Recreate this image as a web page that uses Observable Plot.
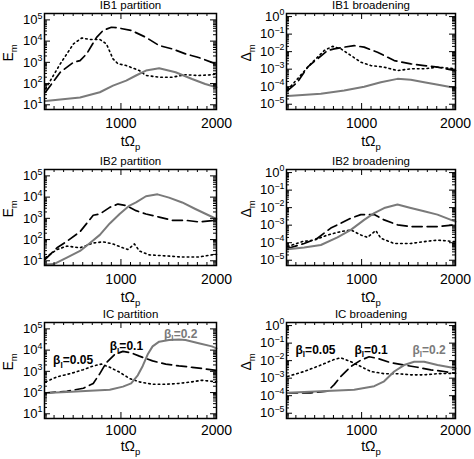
<!DOCTYPE html>
<html><head><meta charset="utf-8">
<script src="https://cdn.jsdelivr.net/npm/d3@7"></script>
<script src="https://cdn.jsdelivr.net/npm/@observablehq/plot@0.6"></script>
<style>
body{margin:0;background:#fff}
#c{position:relative;width:474px;height:459px;overflow:hidden;background:#fff}
.p{position:absolute}
</style>
</head><body><div id="c"></div>
<script>
// ---- data: [tΩp, value] ----
const ib1PartSolid = [[210,15],[572,22],[779,39],[917,80],[1055,138],[1158,240],[1262,410],[1400,530],[1572,340],[1744,165],[1882,96],[2000,67]];
const ib1PartDash = [[210,39],[365,340],[503,1000],[572,1200],[641,2500],[745,15000],[814,32000],[900,45000],[969,42000],[1107,32000],[1262,15000],[1400,6200],[1537,4300],[1675,2500],[1813,1700],[1951,1000],[2000,850]];
const ib1PartDot = [[210,56],[365,850],[503,7400],[590,14000],[676,12000],[779,12000],[848,7400],[917,1450],[969,850],[1055,710],[1193,410],[1262,240],[1400,200],[1537,200],[1675,260],[1813,240],[1951,260],[2000,280]];

const ib1BroadSolid = [[211,2.9e-5],[566,3.9e-5],[814,6e-5],[1027,1.0e-4],[1205,1.8e-4],[1382,2.8e-4],[1524,2.5e-4],[1666,1.8e-4],[1844,1.2e-4],[2000,8.5e-5]];
const ib1BroadDash = [[211,6e-5],[317,1.8e-4],[424,1.3e-3],[530,3.9e-3],[637,1.15e-2],[708,1.45e-2],[814,1.8e-2],[921,2.2e-2],[1027,1.8e-2],[1169,9.3e-3],[1347,3.1e-3],[1524,2e-3],[1666,1.6e-3],[1808,1.3e-3],[2000,8.3e-4]];
const ib1BroadDot = [[211,6.6e-5],[317,2.8e-4],[459,2e-3],[601,1.15e-2],[690,2e-2],[779,1.45e-2],[886,6e-3],[993,2.5e-3],[1098,1.6e-3],[1240,1.3e-3],[1382,8.3e-4],[1524,1.05e-3],[1666,1.05e-3],[1808,1.3e-3],[2000,1.05e-3]];

const ib2PartSolid = [[210,6.6],[297,7],[434,14],[572,29],[676,69],[779,166],[883,575],[986,1600],[1090,4000],[1158,5600],[1262,11000],[1383,13500],[1503,9500],[1641,5600],[1779,2750],[1917,1400],[2000,950]];
const ib2PartDash = [[210,12],[331,41],[434,83],[572,234],[710,1400],[779,1600],[883,3300],[969,4700],[1055,4000],[1158,2300],[1262,1600],[1400,1150],[1538,810],[1676,810],[1814,680],[2000,810]];
const ib2PartDot = [[210,14],[331,34],[434,49],[572,41],[710,69],[814,78],[917,62],[1020,41],[1072,34],[1141,62],[1193,29],[1296,19],[1469,17],[1641,15],[1814,15],[1952,19],[2000,20]];

const ib2BroadSolid = [[211,4.2e-5],[388,5.4e-5],[566,7.4e-5],[743,2e-4],[885,5.4e-4],[1027,2e-3],[1134,4.9e-3],[1240,9.5e-3],[1382,1.5e-2],[1524,9.5e-3],[1666,6.2e-3],[1808,4e-3],[2000,1.6e-3]];
const ib2BroadDash = [[211,4.7e-5],[388,9e-5],[530,1.8e-4],[672,6.8e-4],[779,1.3e-3],[885,2.5e-3],[992,4e-3],[1134,4e-3],[1240,2e-3],[1382,1.05e-3],[1524,8.3e-4],[1666,8.3e-4],[1808,8.3e-4],[2000,1.05e-3]];
const ib2BroadDot = [[211,5.9e-5],[364,1.15e-4],[495,1.4e-4],[637,2.75e-4],[779,4.3e-4],[885,5.4e-4],[992,2.75e-4],[1063,2e-4],[1151,4.9e-4],[1205,1.8e-4],[1347,9e-5],[1524,9e-5],[1666,1.15e-4],[1808,1.4e-4],[2000,1.15e-4]];

const icPartSolid = [[210,95],[434,107],[676,123],[883,135],[1021,190],[1107,270],[1176,650],[1228,1800],[1279,6200],[1331,15000],[1400,25000],[1503,30000],[1607,32000],[1676,30000],[1814,21000],[1952,15000],[2000,12000]];
const icPartDash = [[210,95],[434,115],[607,160],[710,270],[779,780],[848,2600],[934,6200],[1021,8700],[1107,7400],[1193,5200],[1331,3100],[1469,2200],[1607,1800],[1745,1550],[1883,1300],[2000,1100]];
const icPartDot = [[210,320],[331,550],[469,780],[607,1200],[710,1800],[796,2200],[883,1550],[986,910],[1090,460],[1193,320],[1331,245],[1469,245],[1607,270],[1745,320],[1848,380],[2000,320]];

const icBroadSolid = [[211,1.45e-4],[566,1.8e-4],[921,2.2e-4],[1134,3.5e-4],[1240,6.6e-4],[1347,2.4e-3],[1453,5.6e-3],[1560,8.7e-3],[1666,8.7e-3],[1808,5.6e-3],[2000,3.7e-3]];
const icBroadDash = [[211,1.45e-4],[459,1.45e-4],[637,1.8e-4],[708,4.3e-4],[779,1.25e-3],[886,4.6e-3],[992,1.07e-2],[1080,1.66e-2],[1169,1.35e-2],[1311,7.6e-3],[1453,5.6e-3],[1595,4.2e-3],[1737,3e-3],[1879,2.4e-3],[2000,1.9e-3]];
const icBroadDot = [[211,1.25e-3],[388,2.4e-3],[566,5.6e-3],[708,1.17e-2],[779,1.45e-2],[886,8.7e-3],[992,4.6e-3],[1098,2.4e-3],[1240,1.8e-3],[1382,1.8e-3],[1524,1.55e-3],[1666,1.55e-3],[1808,1.8e-3],[2000,1.9e-3]];

// beta labels (text, t, value, colour)
const icPartLabels = [["β_{I}=0.05",290,3300,"black"],["β_{I}=0.1",883,15000,"black"],["β_{I}=0.2",1451,59000,"gray"]];
const icBroadLabels = [["β_{I}=0.05",296,0.04,"black"],["β_{I}=0.1",924,0.04,"black"],["β_{I}=0.2",1542,0.04,"gray"]];

// axes
const xDomain = [200, 2000];
const xTickLabels = [1000, 2000];
const eDomain = [6, 2e5];
const dDomain = [5e-6, 1.5];
const eDecades = [1e1, 1e2, 1e3, 1e4, 1e5];
const dDecades = [1e-5, 1e-4, 1e-3, 1e-2, 1e-1, 1e0];
const titles = ["IB1 partition", "IB1 broadening", "IB2 partition", "IB2 broadening", "IC partition", "IC broadening"];

const GRAY = "#7a7a7a";
const W = 237, H = 148;
const rowTops = [0, 156, 309];
const xLabelDy = [32, 32, 28];

function minorTicks(dom) {
  const out = [];
  for (let e = Math.floor(Math.log10(dom[0])); e <= Math.ceil(Math.log10(dom[1])); e++)
    for (let k = 2; k <= 9; k++) { const v = k * Math.pow(10, e); if (v > dom[0] && v < dom[1]) out.push(v); }
  return out;
}
const xMinor = d3.range(300, 2000, 100).filter(d => d !== 1000);
const xMajor = [1000];

function supFmt(d) {
  const e = Math.round(Math.log10(d));
  return "10^{" + (e < 0 ? "\u2212" + (-e) : e) + "}";
}

function rich(svg) {
  d3.select(svg).selectAll("text").each(function () {
    const t = this.textContent;
    if (!/[\^_]\{/.test(t)) return;
    const fs = parseFloat(getComputedStyle(this).fontSize) || 13;
    const sel = d3.select(this);
    sel.text(null);
    const re = /([\^_])\{([^}]*)\}|([^\^_]+)/g;
    let m, off = 0;
    while ((m = re.exec(t))) {
      if (m[3]) {
        sel.append("tspan").attr("dy", -off).text(m[3]);
        off = 0;
      } else {
        const shift = m[1] === "^" ? -0.42 * fs : 0.28 * fs;
        sel.append("tspan").attr("dy", shift - off).attr("font-size", (0.68 * fs) + "px").text(m[2]);
        off = shift;
      }
    }
  });
}

function panel(i, solid, dash, dot, kind, labels) {
  const col = i % 2, row = Math.floor(i / 2);
  const ml = col ? 49 : 44, mr = col ? 19 : 21, mt = 13, fh = 96;
  const mb = H - mt - fh;
  const iw = W - ml - mr;
  const yDom = kind === "E" ? eDomain : dDomain;
  const major = (kind === "E" ? eDecades : dDecades);
  const minor = minorTicks(yDom);
  const marks = [
    Plot.line(dot, {x: d => d[0], y: d => d[1], stroke: "black", strokeWidth: 1.6, strokeDasharray: "1.6,3.2"}),
    Plot.line(dash, {x: d => d[0], y: d => d[1], stroke: "black", strokeWidth: 1.7, strokeDasharray: "10,5"}),
    Plot.line(solid, {x: d => d[0], y: d => d[1], stroke: GRAY, strokeWidth: 2}),
    Plot.tickY(major, {y: d => d, insetRight: iw - 6, strokeWidth: 1}),
    Plot.tickY(major, {y: d => d, insetLeft: iw - 6, strokeWidth: 1}),
    Plot.tickY(minor, {y: d => d, insetRight: iw - 3, strokeWidth: 1}),
    Plot.tickY(minor, {y: d => d, insetLeft: iw - 3, strokeWidth: 1}),
    Plot.tickX(xMajor, {x: d => d, insetTop: fh - 6, strokeWidth: 1}),
    Plot.tickX(xMajor, {x: d => d, insetBottom: fh - 6, strokeWidth: 1}),
    Plot.tickX(xMinor, {x: d => d, insetTop: fh - 3, strokeWidth: 1}),
    Plot.tickX(xMinor, {x: d => d, insetBottom: fh - 3, strokeWidth: 1}),
    Plot.frame({stroke: "black", strokeWidth: 1.5}),
    Plot.axisY(major, {tickSize: 0, tickPadding: 2, tickFormat: supFmt, fontSize: 13, label: null}),
    Plot.axisX(xTickLabels, {tickSize: 0, tickPadding: row === 2 ? 7 : 9, tickFormat: d => String(d), fontSize: 14, label: null}),
    Plot.text([titles[i]], {text: d => d, frameAnchor: "top", lineAnchor: "middle", dy: -8, fontSize: 11.5}),
    Plot.text([kind === "E" ? "E_{m}" : "Δ_{m}"], {text: d => d, frameAnchor: "left", lineAnchor: "middle", dx: col ? -40 : -36, rotate: -90, fontSize: 14}),
    Plot.text(["tΩ_{p}"], {text: d => d, frameAnchor: "bottom", lineAnchor: "middle", dy: xLabelDy[row], fontSize: 14})
  ];
  if (labels) marks.push(Plot.text(labels, {x: d => d[1], y: d => d[2], text: d => d[0], fill: d => d[3] === "gray" ? GRAY : "black", textAnchor: "start", fontSize: 12, fontWeight: "bold"}));
  const svg = Plot.plot({
    width: W, height: H,
    marginLeft: ml, marginRight: mr, marginTop: mt, marginBottom: mb,
    x: {domain: xDomain},
    y: {type: "log", domain: yDom},
    style: {fontFamily: "'Liberation Sans', Arial, sans-serif", background: "transparent", overflow: "visible"},
    marks
  });
  const div = document.createElement("div");
  div.className = "p";
  div.style.left = (col * W) + "px";
  div.style.top = rowTops[row] + "px";
  div.appendChild(svg);
  document.getElementById("c").appendChild(div);
  rich(svg);
}

panel(0, ib1PartSolid, ib1PartDash, ib1PartDot, "E");
panel(1, ib1BroadSolid, ib1BroadDash, ib1BroadDot, "D");
panel(2, ib2PartSolid, ib2PartDash, ib2PartDot, "E");
panel(3, ib2BroadSolid, ib2BroadDash, ib2BroadDot, "D");
panel(4, icPartSolid, icPartDash, icPartDot, "E", icPartLabels);
panel(5, icBroadSolid, icBroadDash, icBroadDot, "D", icBroadLabels);
</script>
</body></html>
